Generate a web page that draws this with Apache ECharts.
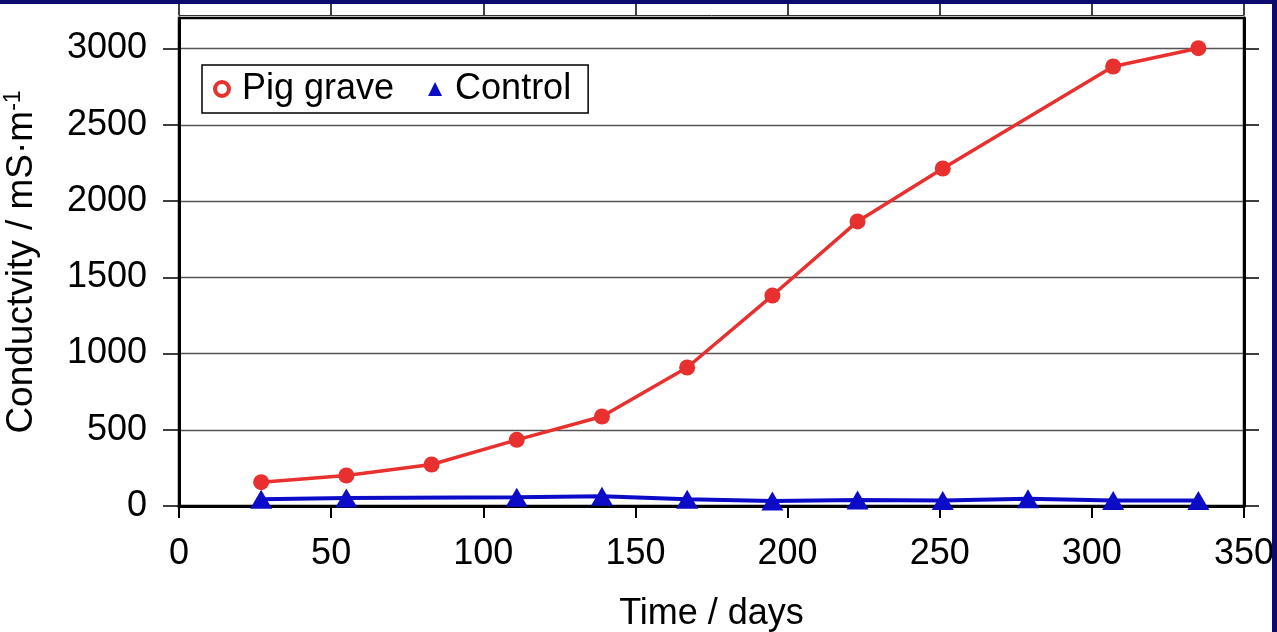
<!DOCTYPE html>
<html>
<head>
<meta charset="utf-8">
<script src="https://cdn.jsdelivr.net/npm/echarts@6/dist/echarts.min.js"></script>
<style>
html,body{margin:0;padding:0;background:#fff;}
#chart{width:1277px;height:632px;}
.frame{position:absolute;background:#0b0b6e;pointer-events:none;}
</style>
</head>
<body>
<div id="chart"></div>
<div class="frame" style="left:0;top:0;width:1277px;height:4px;"></div>
<div class="frame" style="left:1272px;top:0;width:5px;height:632px;"></div>
<script>
// Data
const pigDays = [27, 55, 83, 111, 139, 167, 195, 223, 251, 307, 335];
const pigValues = [156, 200, 272, 434, 587, 908, 1380, 1866, 2213, 2882, 3002];
const ctrlDays = [27, 55, 111, 139, 167, 195, 223, 251, 279, 307, 335];
const ctrlValues = [45, 52, 58, 64, 45, 32, 40, 36, 47, 36, 36];
const yTicks = [0, 500, 1000, 1500, 2000, 2500, 3000];
const seriesNames = ['Pig grave', 'Control'];

const RED = '#e8302f';
const BLUE = '#0c0cc8';
const FONT = 'Liberation Sans';

const chart = echarts.init(document.getElementById('chart'));
chart.setOption({
  animation: false,
  backgroundColor: '#fff',
  textStyle: { fontFamily: FONT },
  grid: {
    left: 179, right: 33, top: 18, bottom: 126,
    outerBoundsMode: 'none', containLabel: false,
    show: true, borderColor: '#000', borderWidth: 2.5, backgroundColor: 'transparent'
  },
  legend: {
    left: 202, top: 65,
    orient: 'horizontal',
    borderColor: '#000', borderWidth: 1.5,
    padding: [6, 17, 6, 11],
    itemWidth: 14, itemHeight: 14, itemGap: 34,
    textStyle: { fontSize: 36, color: '#000', fontFamily: FONT, padding: [0, 0, 0, 8] },
    data: [
      { name: seriesNames[0], icon: 'circle', itemStyle: { color: '#fff', borderColor: RED, borderWidth: 4 } },
      { name: seriesNames[1], icon: 'triangle', itemStyle: { color: BLUE, borderWidth: 0 } }
    ]
  },
  xAxis: [{
    type: 'value', min: 0, max: 350, interval: 50,
    position: 'bottom',
    name: 'Time / days', nameLocation: 'middle', nameGap: 90,
    nameTextStyle: { fontSize: 36, color: '#000', fontFamily: FONT },
    axisLine: { show: true, onZero: false, lineStyle: { color: '#000', width: 3 } },
    axisTick: { show: true, inside: false, length: 12, lineStyle: { color: '#000', width: 2 } },
    axisLabel: { fontSize: 36, color: '#000', margin: 30, fontFamily: FONT, formatter: v => String(v) },
    splitLine: { show: false }
  }, {
    type: 'value', min: 0, max: 350, interval: 50,
    position: 'top', offset: 3,
    axisLine: { show: true, onZero: false, lineStyle: { color: '#333', width: 1 } },
    axisTick: { show: true, inside: false, length: 16, lineStyle: { color: '#000', width: 1.5 } },
    axisLabel: { show: false },
    splitLine: { show: false }
  }],
  yAxis: [{
    type: 'value', min: 0, max: 3200, interval: 500,
    position: 'left',
    name: 'Conductvity / mS·m{sup|-1}', nameLocation: 'middle', nameGap: 137,
    nameTextStyle: {
      fontSize: 37, color: '#000', fontFamily: FONT, lineHeight: 40,
      rich: { sup: { fontSize: 23, color: '#000', fontFamily: FONT, verticalAlign: 'top', lineHeight: 24 } }
    },
    axisLine: { show: true, onZero: false, lineStyle: { color: '#000', width: 3 } },
    axisTick: { show: true, inside: false, length: 16, customValues: yTicks, lineStyle: { color: '#000', width: 1.5 } },
    axisLabel: { fontSize: 36, color: '#000', margin: 32, fontFamily: FONT, customValues: yTicks, formatter: v => String(v) },
    splitLine: { show: true, lineStyle: { color: '#555', width: 1.3 } }
  }, {
    type: 'value', min: 0, max: 3200, interval: 500,
    position: 'right',
    axisLine: { show: true, onZero: false, lineStyle: { color: '#000', width: 3 } },
    axisTick: { show: true, inside: false, length: 15, customValues: yTicks, lineStyle: { color: '#000', width: 1.5 } },
    axisLabel: { show: false },
    splitLine: { show: false }
  }],
  series: [{
    name: seriesNames[0], type: 'line',
    data: pigDays.map((d, i) => [d, pigValues[i]]),
    symbol: 'circle', symbolSize: 16, showSymbol: true,
    lineStyle: { color: RED, width: 3.5 },
    itemStyle: { color: RED },
    z: 3
  }, {
    name: seriesNames[1], type: 'line',
    data: ctrlDays.map((d, i) => [d, ctrlValues[i]]),
    symbol: 'triangle', symbolSize: [22, 19], showSymbol: true,
    lineStyle: { color: BLUE, width: 4 },
    itemStyle: { color: BLUE },
    z: 2
  }]
});
</script>
</body>
</html>
